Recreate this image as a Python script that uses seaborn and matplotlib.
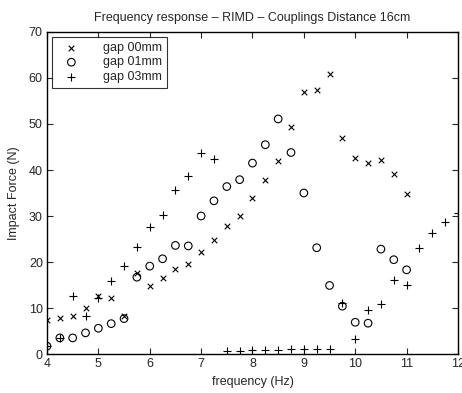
import numpy as np
import pandas as pd
import matplotlib
matplotlib.use("Agg")
import matplotlib.pyplot as plt
import seaborn as sns

freq_00 = [4.0, 4.25, 4.5, 4.75, 5.0, 5.25, 5.5, 5.75, 6.0, 6.25, 6.5, 6.75, 7.0, 7.25, 7.5, 7.75,
           8.0, 8.25, 8.5, 8.75, 9.0, 9.25, 9.5, 9.75, 10.0, 10.25, 10.5, 10.75, 11.0]
force_00 = [7.3, 7.9, 8.3, 10.1, 12.7, 12.2, 8.3, 17.7, 14.7, 16.5, 18.4, 19.6, 22.1, 24.8, 27.8, 29.9,
            34.0, 37.9, 41.9, 49.4, 56.9, 57.3, 60.8, 47.0, 42.7, 41.5, 42.2, 39.2, 34.7]

freq_01 = [4.0, 4.25, 4.5, 4.75, 5.0, 5.25, 5.5, 5.75, 6.0, 6.25, 6.5, 6.75, 7.0, 7.25, 7.5, 7.75,
           8.0, 8.25, 8.5, 8.75, 9.0, 9.25, 9.5, 9.75, 10.0, 10.25, 10.5, 10.75, 11.0]
force_01 = [1.7, 3.5, 3.5, 4.6, 5.6, 6.6, 7.7, 16.7, 19.1, 20.7, 23.6, 23.5, 30.0, 33.3, 36.4, 37.9,
            41.5, 45.5, 51.1, 43.8, 35.0, 23.1, 14.9, 10.4, 6.9, 6.7, 22.8, 20.5, 18.3]

freq_03 = [4.0, 4.25, 4.5, 4.75, 5.0, 5.25, 5.5, 5.75, 6.0, 6.25, 6.5, 6.75, 7.0, 7.25,
           7.5, 7.75, 8.0, 8.25, 8.5, 8.75, 9.0, 9.25, 9.5,
           9.75, 10.0, 10.25, 10.5, 10.75, 11.0, 11.25, 11.5, 11.75, 12.0]
force_03 = [1.7, 3.5, 12.6, 8.3, 12.1, 15.8, 19.1, 23.3, 27.7, 30.3, 35.7, 38.7, 43.8, 42.3,
            0.7, 0.7, 0.8, 0.8, 0.8, 1.0, 1.1, 1.1, 1.0,
            11.1, 3.3, 9.6, 10.8, 16.0, 15.0, 23.1, 26.2, 28.8, 30.6]

df00 = pd.DataFrame({"freq": freq_00, "force": force_00})
df01 = pd.DataFrame({"freq": freq_01, "force": force_01})
df03 = pd.DataFrame({"freq": freq_03, "force": force_03})

sns.set_style("ticks")
plt.rcParams["font.family"] = ["Liberation Sans", "DejaVu Sans"]

fig = plt.figure(figsize=(4.62, 3.93), dpi=100)
ax = fig.add_axes([0.1017, 0.0992, 0.8896, 0.8194])

sns.scatterplot(data=df00, x="freq", y="force", marker="x", color="k", s=16,
                linewidth=0.8, label="gap 00mm", ax=ax)
sns.scatterplot(data=df01, x="freq", y="force", marker="o", facecolor="none",
                edgecolor="k", s=30, linewidth=0.8, label="gap 01mm", ax=ax)
sns.scatterplot(data=df03, x="freq", y="force", marker="+", color="k", s=36,
                linewidth=0.8, label="gap 03mm", ax=ax)

ax.set_xlim(4, 12)
ax.set_ylim(0, 70)
ax.set_xticks(range(4, 13))
ax.set_yticks(range(0, 71, 10))
ax.tick_params(direction="in", top=True, right=True, labelsize=9, length=4, width=0.8, pad=3)
for sp in ax.spines.values():
    sp.set_visible(True)
    sp.set_linewidth(1.0)
    sp.set_color("k")

ax.set_xlabel("frequency (Hz)", fontsize=9, labelpad=4)
ax.set_ylabel("Impact Force (N)", fontsize=9, labelpad=6)
ax.set_title("Frequency response \u2013 RIMD \u2013 Couplings Distance 16cm", fontsize=9, pad=8)

leg = ax.legend(loc="upper left", fontsize=9, frameon=True, fancybox=False,
                edgecolor="k", borderpad=0.4, labelspacing=0.2, handletextpad=1.4,
                handlelength=2.3, borderaxespad=0.4)
leg.get_frame().set_linewidth(0.8)

fig.savefig("out.png", dpi=100)
